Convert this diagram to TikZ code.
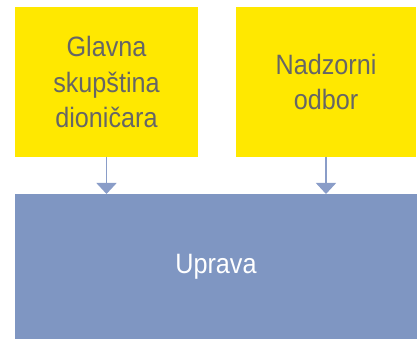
\documentclass[tikz,border=0pt]{standalone}
\usepackage{fontspec}
\setmainfont[FakeStretch=0.9]{Liberation Sans}
\usepackage{tikz}
\usetikzlibrary{positioning}
\usetikzlibrary{arrows.meta}
\definecolor{boxyellow}{HTML}{FFE800}
\definecolor{boxblue}{HTML}{7F96C2}
\definecolor{arrowblue}{HTML}{8A9DC8}
\definecolor{textgray}{HTML}{666666}
\tikzstyle{upper} = [rectangle, minimum height=150pt, inner sep=0pt, outer sep=0pt, text centered, align=center, fill=boxyellow, text=textgray, font=\fontsize{28}{35.5}\selectfont]
\tikzstyle{lower} = [rectangle, minimum width=402pt, minimum height=145pt, inner sep=0pt, outer sep=0pt, text centered, fill=boxblue, text=white, font=\fontsize{28}{35.5}\selectfont]
\tikzstyle{arrow} = [line width=1.5pt, draw=arrowblue, -{Triangle[width=20pt,length=11pt]}]

\begin{document}
\begin{tikzpicture}
        \useasboundingbox (0,0) rectangle (417pt,339pt);
        \node (uprava) [lower] at (216pt,72.5pt) {Uprava};
        \node (skupstina) [upper, minimum width=183pt, above=37pt of uprava.north west, anchor=south west] {Glavna\\skupština\\dioničara};
        \node (nadzor) [upper, minimum width=180pt, above=37pt of uprava.north west, anchor=south west, xshift=221pt] {Nadzorni\\odbor};

        \draw [arrow] (skupstina.south) -- (skupstina.south |- uprava.north);
        \draw [arrow] (nadzor.south) -- (nadzor.south |- uprava.north);
    \end{tikzpicture}
\end{document}
